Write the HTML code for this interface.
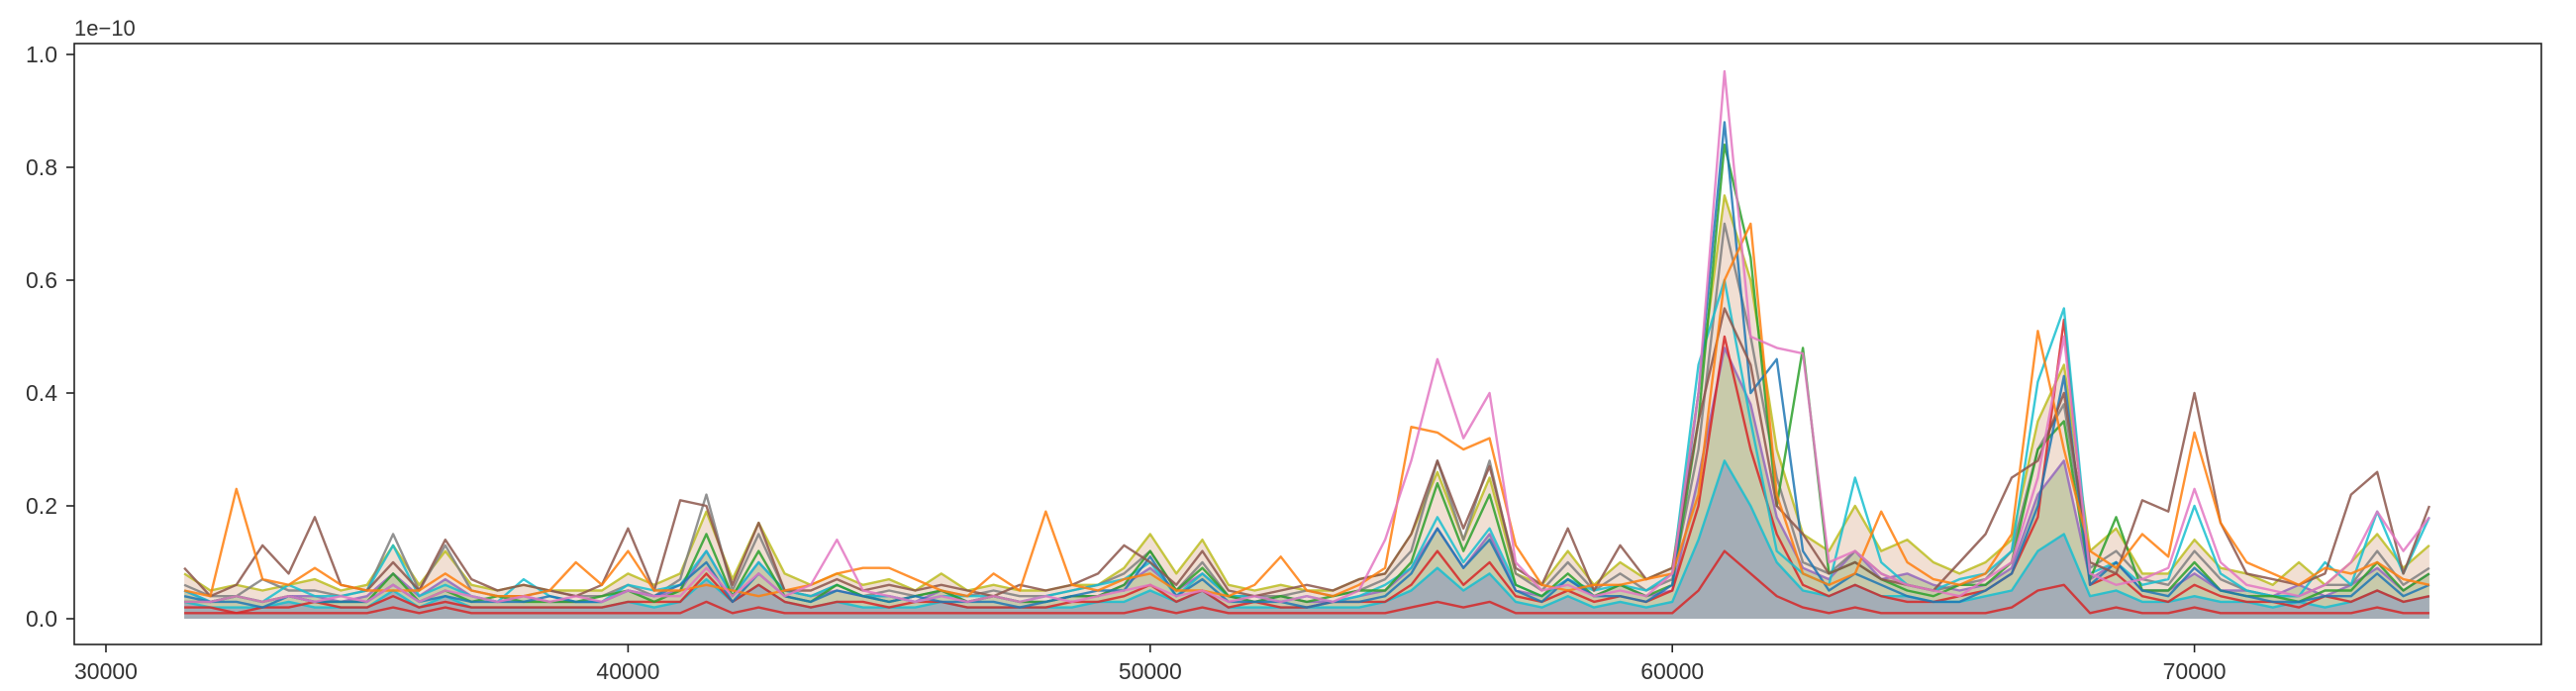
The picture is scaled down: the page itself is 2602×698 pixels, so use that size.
<!DOCTYPE html>
<html><head><meta charset="utf-8"><style>
html,body{margin:0;padding:0;background:#fff;}
svg{display:block;font-family:"Liberation Sans","DejaVu Sans",sans-serif;}
</style></head><body>
<svg id="chart" width="2602" height="698" viewBox="0 0 2602 698" xmlns="http://www.w3.org/2000/svg">
<rect x="0" y="0" width="2602" height="698" fill="#fff"/>
<g id="fills"></g>
<g id="lines"></g>
<rect x="75" y="44" width="2492" height="607" fill="none" stroke="#222" stroke-width="1.6"/>
<g id="axes"></g>
<text x="75" y="36" font-size="22" fill="#333">1e−10</text>
</svg>
<script>
const xStart = 31500;
const xStep = 500;
const xTicks = [30000, 40000, 50000, 60000, 70000];
const yTicks = [0.0, 0.2, 0.4, 0.6, 0.8, 1.0];
const yTickLabels = ["0.0", "0.2", "0.4", "0.6", "0.8", "1.0"];
// values in units of 1e-12 (i.e. 0.01 × 1e-10)
const bulkHi = [8,5,6,5,6,7,5,6,13,6, 12,6,5,6,5,5,5,8,6,8, 19,7,17,8,6,8,6,7,5,8, 5,6,5,5,6,6,9,15,8,14, 6,5,6,5,5,7,8,15,26,14, 25,8,6,12,6,10,7,9,40,75, 60,30,15,12,20,12,14,10,8,10, 14,35,45,12,16,8,8,14,9,8, 6,10,6,10,15,9,13];
const bulkMid = [5,3,4,3,4,4,3,4,8,4, 7,4,3,4,3,3,3,5,4,5, 12,4,10,5,4,5,4,4,3,5, 3,4,3,3,4,4,6,9,5,8, 4,3,4,3,3,4,5,9,16,9, 15,5,4,7,4,6,4,5,25,48, 38,18,9,7,12,7,8,6,5,6, 9,22,28,7,10,5,5,8,5,5, 4,6,4,6,9,5,8];
const bulkLow = [3,2,2,2,3,2,2,2,5,2, 4,2,2,2,2,2,2,3,2,3, 7,3,6,3,2,3,2,2,2,3, 2,2,2,2,2,3,3,5,3,5, 2,2,2,2,2,2,3,5,9,5, 8,3,2,4,2,3,2,3,14,28, 20,10,5,4,6,4,4,3,3,4, 5,12,15,4,5,3,3,4,3,3, 2,3,2,3,5,3,4];
const bulkFloor = [1,1,1,1,1,1,1,1,2,1, 2,1,1,1,1,1,1,1,1,1, 3,1,2,1,1,1,1,1,1,1, 1,1,1,1,1,1,1,2,1,2, 1,1,1,1,1,1,1,2,3,2, 3,1,1,1,1,1,1,1,5,12, 8,4,2,1,2,1,1,1,1,1, 2,5,6,1,2,1,1,2,1,1, 1,1,1,1,2,1,1];
const orange1 = [5,4,23,7,6,9,6,5,5,5, 8,5,4,4,5,10,6,12,5,5, 6,5,4,5,6,8,9,9,7,5, 4,8,5,19,6,5,7,8,5,5, 4,6,11,5,4,6,9,34,33,30, 32,13,6,5,6,6,7,8,22,60, 70,22,8,6,8,19,10,7,6,8, 15,51,30,12,9,15,11,33,17,10, 8,6,9,8,10,7,6];
const pink1 = [3,3,4,3,4,3,4,3,6,3, 5,4,3,4,3,4,3,5,4,4, 9,4,8,4,6,14,5,4,3,4, 3,4,3,4,3,4,5,6,4,5, 3,4,3,4,3,5,14,28,46,32, 40,10,5,6,4,5,4,8,40,97, 50,48,47,10,12,8,6,5,4,7, 10,25,50,8,6,7,9,23,10,6, 5,4,6,10,19,12,18];
const brown1 = [9,4,6,13,8,18,6,5,10,5, 14,7,5,6,5,4,6,16,5,21, 20,6,17,5,5,7,5,6,5,6, 5,4,6,5,6,8,13,10,6,12, 5,4,5,6,5,7,8,15,28,16, 27,9,6,16,5,13,7,9,35,55, 45,20,15,8,10,7,6,5,10,15, 25,28,40,10,8,21,19,40,17,8, 7,6,8,22,26,8,20];
const blue1 = [4,3,3,2,4,3,3,3,6,3, 4,3,3,3,4,3,3,5,4,6, 10,3,8,4,3,5,4,3,4,3, 3,3,2,3,4,5,5,11,4,7, 3,3,3,2,3,3,4,8,16,9, 14,5,3,7,4,4,3,6,40,88, 40,46,12,5,8,6,4,3,3,5, 8,20,43,6,10,5,4,9,5,4, 3,3,4,4,8,4,6];
const green1 = [3,3,4,3,4,3,3,3,8,3, 5,3,4,3,3,3,4,5,3,5, 15,4,12,4,3,6,4,3,4,5, 3,4,3,3,4,4,6,12,5,9, 4,3,4,3,4,5,5,10,24,12, 22,6,4,8,4,6,4,6,35,84, 64,20,48,8,10,7,5,4,6,6, 10,30,35,7,18,5,5,10,5,4, 4,3,5,5,10,5,8];
const cyan1 = [5,3,4,3,6,4,4,5,13,4, 6,4,3,7,4,3,3,6,5,6, 12,4,10,5,4,6,4,4,3,4, 4,4,3,4,5,6,7,10,4,8, 4,4,3,4,3,4,6,9,18,10, 16,6,4,7,5,6,5,8,45,60, 35,12,8,6,25,10,6,5,7,8, 12,42,55,8,10,6,7,20,8,5, 4,4,10,6,19,8,18];
const red1 = [2,2,1,2,2,3,2,2,4,2, 3,2,2,2,2,2,2,3,3,3, 8,3,6,3,2,3,3,2,3,3, 2,2,2,2,3,3,4,6,3,5, 2,3,2,2,3,3,3,6,12,6, 10,4,3,5,3,4,3,5,20,50, 30,15,6,4,6,4,3,3,4,5, 8,18,53,6,8,4,3,6,4,3, 3,2,4,3,5,3,4];
const gray1 = [6,4,4,7,5,5,4,5,15,5, 13,5,4,4,5,4,4,6,4,7, 22,5,15,5,4,6,4,5,4,5, 4,5,4,4,5,6,8,12,5,10, 4,4,4,5,4,5,7,12,28,14, 28,8,5,10,5,8,5,7,30,70, 50,25,10,8,12,8,6,5,6,7, 12,30,38,9,12,7,6,12,7,5, 4,4,6,6,12,6,9];

const NS = "http://www.w3.org/2000/svg";
function xPos(v){ return 107 + (v - 30000) * 0.05274; }
function yPos(v){ return 625 - v * 570; }
function ptX(i){ return xPos(xStart + i * xStep); }
function ptY(val){ return yPos(val / 100); }

const fills = document.getElementById('fills');
const lines = document.getElementById('lines');
const axes = document.getElementById('axes');

function areaPath(arr){
  let d = "M" + ptX(0) + "," + yPos(0);
  arr.forEach((v,i)=>{ d += " L" + ptX(i).toFixed(1) + "," + ptY(v).toFixed(1); });
  d += " L" + ptX(arr.length-1) + "," + yPos(0) + " Z";
  return d;
}
function linePath(arr){
  return arr.map((v,i)=>(i?"L":"M") + ptX(i).toFixed(1) + "," + ptY(v).toFixed(1)).join(" ");
}

const a1 = document.createElementNS(NS,'path');
a1.setAttribute('d', areaPath(bulkHi));
a1.setAttribute('fill', 'rgba(210,150,110,0.30)');


fills.appendChild(a1);
const a2 = document.createElementNS(NS,'path');
a2.setAttribute('d', areaPath(bulkMid));
a2.setAttribute('fill', 'rgba(140,170,110,0.40)');


fills.appendChild(a2);
const a3 = document.createElementNS(NS,'path');
a3.setAttribute('d', areaPath(bulkLow));
a3.setAttribute('fill', 'rgba(110,130,200,0.40)');


fills.appendChild(a3);

const seriesList = [
  [bulkHi, '#bcbd22', 'series-bulk-high'],
  [bulkMid, '#9467bd', 'series-bulk-mid'],
  [bulkLow, '#17becf', 'series-bulk-low'],
  [bulkFloor, '#d62728', 'series-bulk-floor'],
  [gray1, '#7f7f7f', 'series-gray'],
  [red1, '#d62728', 'series-red'],
  [cyan1, '#17becf', 'series-cyan'],
  [green1, '#2ca02c', 'series-green'],
  [blue1, '#1f77b4', 'series-blue'],
  [brown1, '#8c564b', 'series-brown'],
  [orange1, '#ff7f0e', 'series-orange'],
  [pink1, '#e377c2', 'series-pink']
];
seriesList.forEach(s=>{
  const p = document.createElementNS(NS,'path');
  p.setAttribute('d', linePath(s[0]));
  p.setAttribute('fill','none');
  p.setAttribute('stroke', s[1]);
  p.setAttribute('stroke-width','2.4');
  p.setAttribute('stroke-opacity','0.85');
  p.setAttribute('stroke-linejoin','round');
  
  
  lines.appendChild(p);
});

xTicks.forEach(v=>{
  const x = xPos(v);
  const t = document.createElementNS(NS,'line');
  t.setAttribute('x1',x); t.setAttribute('x2',x);
  t.setAttribute('y1',651); t.setAttribute('y2',659);
  t.setAttribute('stroke','#222'); t.setAttribute('stroke-width','1.6');
  
  
  axes.appendChild(t);
  const l = document.createElementNS(NS,'text');
  l.setAttribute('x',x); l.setAttribute('y',686);
  l.setAttribute('text-anchor','middle'); l.setAttribute('font-size','23'); l.setAttribute('fill','#333');
  l.textContent = String(v);
  
  
  axes.appendChild(l);
});
yTicks.forEach((v,i)=>{
  const y = yPos(v);
  const t = document.createElementNS(NS,'line');
  t.setAttribute('x1',67); t.setAttribute('x2',75);
  t.setAttribute('y1',y); t.setAttribute('y2',y);
  t.setAttribute('stroke','#222'); t.setAttribute('stroke-width','1.6');
  
  
  axes.appendChild(t);
  const l = document.createElementNS(NS,'text');
  l.setAttribute('x',58); l.setAttribute('y',y+8);
  l.setAttribute('text-anchor','end'); l.setAttribute('font-size','23'); l.setAttribute('fill','#333');
  l.textContent = yTickLabels[i];
  
  
  axes.appendChild(l);
});
</script>
</body></html>
